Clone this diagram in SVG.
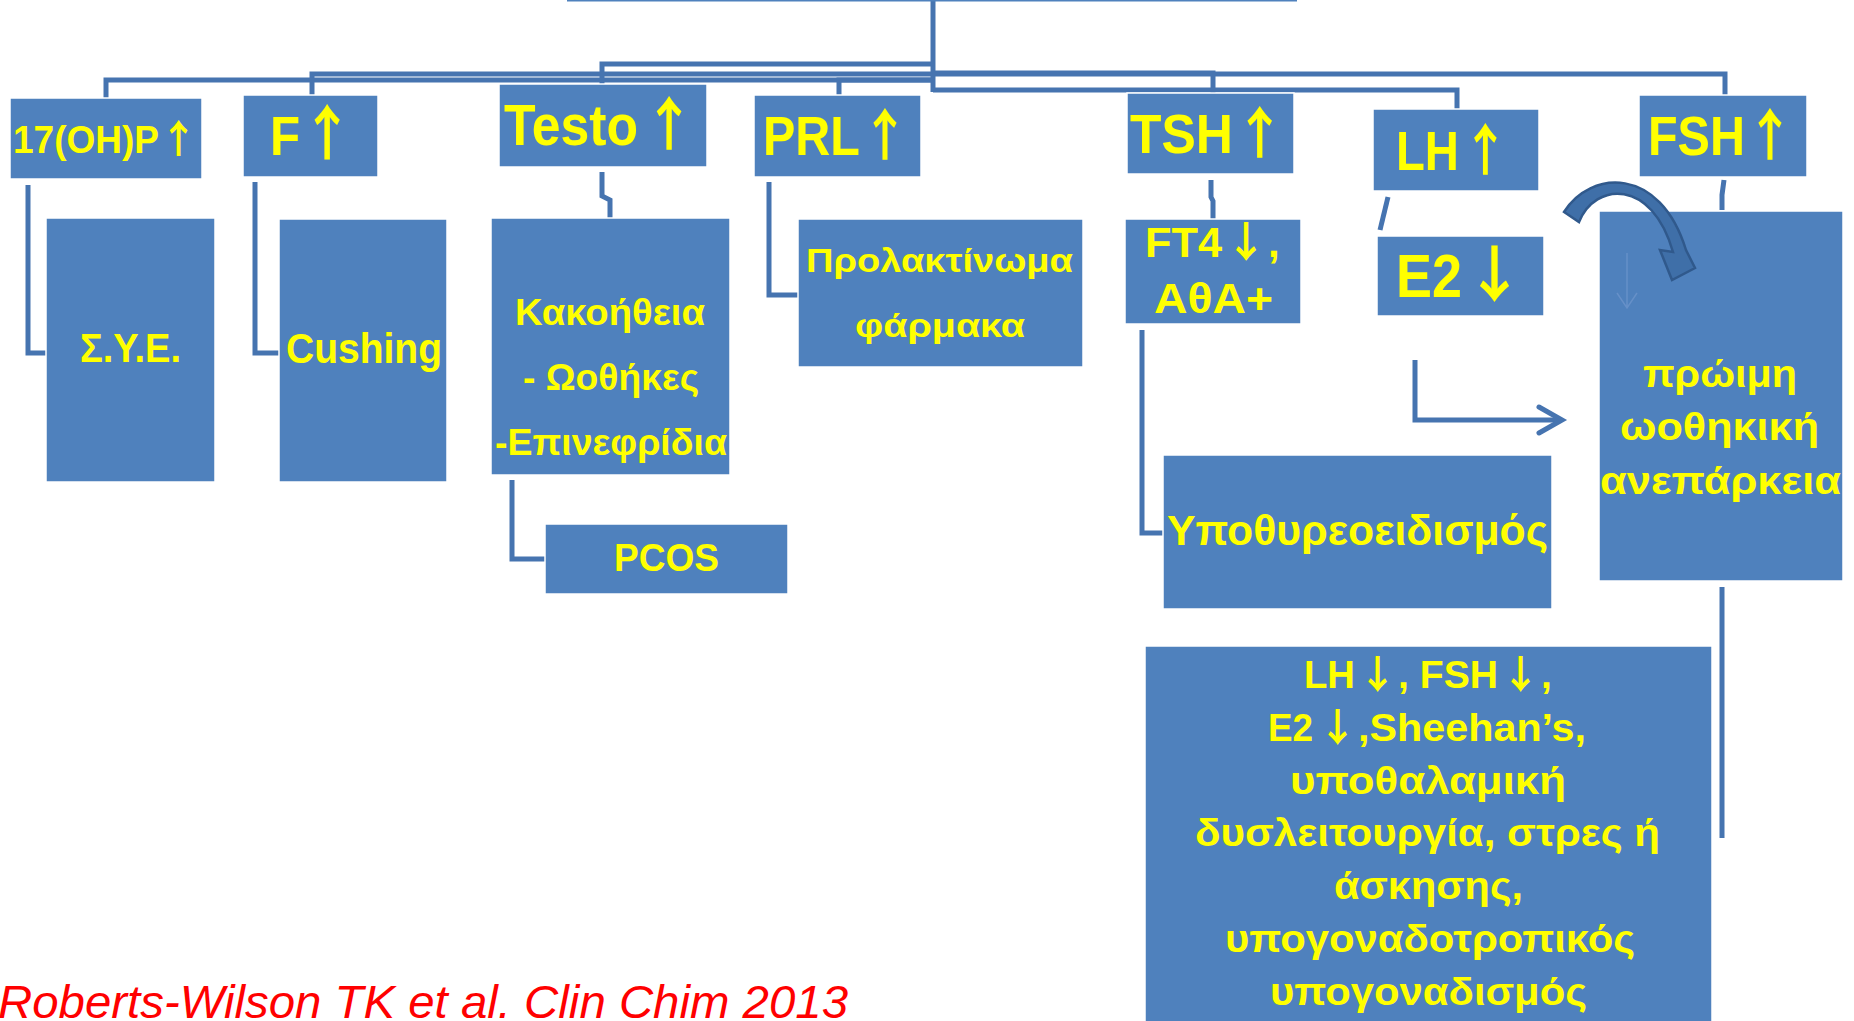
<svg xmlns="http://www.w3.org/2000/svg" width="1854" height="1021" viewBox="0 0 1854 1021">
<style>
.box{fill:#4f81bd;stroke:#ffffff;stroke-width:1.5}
.t{font-family:"Liberation Sans",Arial,sans-serif;font-weight:bold;fill:#ffff00}
.a{font-family:"Noto Sans CJK JP","Noto Sans CJK SC","DejaVu Sans",sans-serif;font-weight:bold}
.c{fill:none;stroke:#4674b0;stroke-width:5;stroke-linejoin:miter}
.cite{font-family:"Liberation Sans",Arial,sans-serif;font-style:italic;fill:#ff0000}
</style>
<rect width="1854" height="1021" fill="#ffffff"/>
<g id="connectors">
<path class="c" d="M933 0 V92"/>
<path class="c" d="M933 64 H602 V84"/>
<path class="c" d="M933 74 H312 V95"/>
<path class="c" d="M933 80 H106 V98"/>
<path class="c" d="M933 80 H839 V95"/>
<path class="c" d="M933 73 H1213 V93"/>
<path class="c" d="M933 74 H1725 V95"/>
<path class="c" d="M933 90 H1457 V109"/>
<path class="c" d="M28 185 V353 H46"/>
<path class="c" d="M255 182 V353 H279"/>
<path class="c" d="M602 172 V196 L610 200 V218"/>
<path class="c" d="M512 480 V559 H545"/>
<path class="c" d="M769 182 V295 H798"/>
<path class="c" d="M1211 180 V197 L1213 201 V219"/>
<path class="c" d="M1142 330 V533 H1163"/>
<path class="c" d="M1388 197 L1380 230"/>
<path class="c" d="M1724 180 L1722 195 V210"/>
<path class="c" d="M1415 360 V420 H1560"/>
<path class="c" d="M1539 407 L1562 420 L1539 433" stroke-linecap="round"/>
<path class="c" d="M1722 587 V838"/>
</g>
<g id="top"><rect x="567" y="-20" width="730" height="21.5" fill="#4f81bd"/></g>
<g id="n17ohp"><rect class="box" x="10" y="98" width="192" height="81"/><text class="t" transform="translate(13 153) scale(0.949 1)" font-size="39">17(OH)P<tspan class="a" x="155">↑</tspan></text></g>
<g id="nF"><rect class="box" x="243" y="95" width="135" height="82"/><text class="t" transform="translate(270 155) scale(0.88 1)" font-size="56">F<tspan class="a" x="35" font-size="60">↑</tspan></text></g>
<g id="nTesto"><rect class="box" x="499" y="84" width="208" height="83"/><text class="t" transform="translate(504 145) scale(0.892 1)" font-size="58">Testo<tspan class="a" x="156">↑</tspan></text></g>
<g id="nPRL"><rect class="box" x="754" y="95" width="167" height="82"/><text class="t" transform="translate(763 155) scale(0.866 1)" font-size="56">PRL<tspan class="a" x="113">↑</tspan></text></g>
<g id="nTSH"><rect class="box" x="1127" y="93" width="167" height="81"/><text class="t" transform="translate(1130 153) scale(0.92 1)" font-size="56">TSH<tspan class="a" x="113">↑</tspan></text></g>
<g id="nLH"><rect class="box" x="1373" y="109" width="166" height="82"/><text class="t" transform="translate(1396 170) scale(0.844 1)" font-size="56">LH<tspan class="a" x="78">↑</tspan></text></g>
<g id="nFSH"><rect class="box" x="1639" y="95" width="168" height="82"/><text class="t" transform="translate(1648 155) scale(0.866 1)" font-size="56">FSH<tspan class="a" x="113">↑</tspan></text></g>
<g id="nSYE"><rect class="box" x="46" y="218" width="169" height="264"/><text class="t" x="80" y="362" font-size="40" textLength="101" lengthAdjust="spacingAndGlyphs">Σ.Υ.Ε.</text></g>
<g id="nCushing"><rect class="box" x="279" y="219" width="168" height="263"/><text class="t" x="286" y="363" font-size="43" textLength="156" lengthAdjust="spacingAndGlyphs">Cushing</text></g>
<g id="nMalignancy"><rect class="box" x="491" y="218" width="239" height="257"/>
<text class="t" x="515" y="325" font-size="37" textLength="190" lengthAdjust="spacingAndGlyphs">Κακοήθεια</text>
<text class="t" x="523" y="390" font-size="37" textLength="176" lengthAdjust="spacingAndGlyphs">- Ωοθήκες</text>
<text class="t" x="495" y="455" font-size="37" textLength="232" lengthAdjust="spacingAndGlyphs">-Επινεφρίδια</text></g>
<g id="nPCOS"><rect class="box" x="545" y="524" width="243" height="70"/><text class="t" x="614" y="571" font-size="39" textLength="105" lengthAdjust="spacingAndGlyphs">PCOS</text></g>
<g id="nProlactinoma"><rect class="box" x="798" y="219" width="285" height="148"/>
<text class="t" x="806" y="272" font-size="34" textLength="267" lengthAdjust="spacingAndGlyphs">Προλακτίνωμα</text>
<text class="t" x="855" y="337" font-size="34" textLength="170" lengthAdjust="spacingAndGlyphs">φάρμακα</text></g>
<g id="nFT4"><rect class="box" x="1125" y="219" width="176" height="105"/>
<text class="t" y="257" font-size="42"><tspan x="1145" textLength="77" lengthAdjust="spacingAndGlyphs">FT4</tspan><tspan class="a" x="1225">↓</tspan><tspan x="1268">,</tspan></text>
<text class="t" x="1154" y="313" font-size="42" textLength="119" lengthAdjust="spacingAndGlyphs">ΑθΑ+</text></g>
<g id="nE2"><rect class="box" x="1377" y="236" width="167" height="80"/><text class="t" y="297" font-size="61"><tspan x="1396" textLength="66" lengthAdjust="spacingAndGlyphs">E2</tspan><tspan class="a" x="1464">↓</tspan></text></g>
<g id="nPOI"><rect class="box" x="1599" y="211" width="244" height="370"/>
<path d="M1627 253 V307 M1617 293 L1627 308 L1637 293" fill="none" stroke="#6690c8" stroke-width="1.5"/>
<text class="t" x="1643" y="387" font-size="39" textLength="154" lengthAdjust="spacingAndGlyphs">πρώιμη</text>
<text class="t" x="1620" y="440" font-size="39" textLength="199" lengthAdjust="spacingAndGlyphs">ωοθηκική</text>
<text class="t" x="1600" y="494" font-size="39" textLength="241" lengthAdjust="spacingAndGlyphs">ανεπάρκεια</text></g>
<g id="curvedArrow"><path d="M1564 212 C1590 170 1660 165 1686 250 L1695 268 L1672 280 L1660 250 L1673 252 C1652 178 1595 182 1579 222 Z" fill="#3f6fa8" stroke="#30598c" stroke-width="2.5" stroke-linejoin="miter"/></g>
<g id="nHypothyroid"><rect class="box" x="1163" y="455" width="389" height="154"/><text class="t" x="1167" y="545" font-size="42" textLength="381" lengthAdjust="spacingAndGlyphs">Υποθυρεοειδισμός</text></g>
<g id="nHypogonadism"><rect class="box" x="1145" y="646" width="567" height="390"/>
<text class="t" y="688" font-size="39"><tspan x="1304" textLength="51" lengthAdjust="spacingAndGlyphs">LH</tspan><tspan class="a" x="1358">↓</tspan><tspan x="1398" textLength="100" lengthAdjust="spacingAndGlyphs">, FSH</tspan><tspan class="a" x="1501">↓</tspan><tspan x="1541">,</tspan></text>
<text class="t" y="741" font-size="39"><tspan x="1268" textLength="45" lengthAdjust="spacingAndGlyphs">E2</tspan><tspan class="a" x="1318">↓</tspan><tspan x="1358" textLength="228" lengthAdjust="spacingAndGlyphs">,Sheehan’s,</tspan></text>
<text class="t" x="1290" y="794" font-size="39" textLength="276" lengthAdjust="spacingAndGlyphs">υποθαλαμική</text>
<text class="t" x="1195" y="846" font-size="39" textLength="465" lengthAdjust="spacingAndGlyphs">δυσλειτουργία, στρες ή</text>
<text class="t" x="1334" y="899" font-size="39" textLength="189" lengthAdjust="spacingAndGlyphs">άσκησης,</text>
<text class="t" x="1225" y="952" font-size="39" textLength="410" lengthAdjust="spacingAndGlyphs">υπογοναδοτροπικός</text>
<text class="t" x="1270" y="1005" font-size="39" textLength="317" lengthAdjust="spacingAndGlyphs">υπογοναδισμός</text></g>
<g id="citation"><text class="cite" x="-2" y="1018" font-size="47" textLength="850" lengthAdjust="spacingAndGlyphs">Roberts-Wilson TK et al. Clin Chim 2013</text></g>
</svg>
